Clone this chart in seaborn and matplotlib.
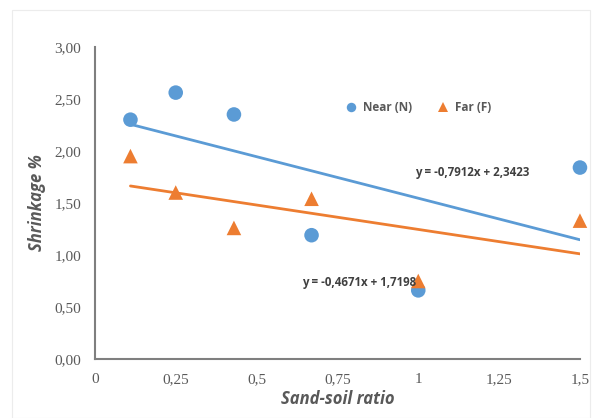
import numpy as np
import pandas as pd
import matplotlib
matplotlib.use('Agg')
import matplotlib.pyplot as plt
from matplotlib.ticker import FuncFormatter
from matplotlib.patches import Rectangle
import seaborn as sns

# data
ratio = [0.11, 0.25, 0.43, 0.67, 1.0, 1.5]
near = [2.30, 2.56, 2.35, 1.19, 0.66, 1.84]
far = [1.95, 1.60, 1.26, 1.54, 0.75, 1.33]
series_names = ['Near (N)', 'Far (F)']
eq_near = 'y = -0,7912x + 2,3423'
eq_far = 'y = -0,4671x + 1,7198'
x_ticks = [0, 0.25, 0.5, 0.75, 1, 1.25, 1.5]
x_ticklabels = ['0', '0,25', '0,5', '0,75', '1', '1,25', '1,5']
y_ticks = [0, 0.5, 1, 1.5, 2, 2.5, 3]

blue = '#5B9BD5'
orange = '#ED7D31'
grey = '#595959'

df = pd.DataFrame({
    'ratio': ratio * 2,
    'shrinkage': near + far,
    'series': [series_names[0]] * len(near) + [series_names[1]] * len(far),
})

sns.set_style('white')
plt.rcParams['font.family'] = ['Liberation Serif', 'DejaVu Sans']
fig = plt.figure(figsize=(5.93, 4.18), dpi=100)
ax = fig.add_axes([0.160, 0.141, 0.818, 0.747])

# faint outer frame
fig.patches.append(Rectangle((0.02, 0.0), 0.975, 0.975, transform=fig.transFigure,
                             fill=False, edgecolor='#ececec', linewidth=0.8))

# trend lines
sns.regplot(data=df[df.series == series_names[0]], x='ratio', y='shrinkage', ax=ax,
            scatter=False, ci=None, truncate=True, color=blue, line_kws={'linewidth': 2})
sns.regplot(data=df[df.series == series_names[1]], x='ratio', y='shrinkage', ax=ax,
            scatter=False, ci=None, truncate=True, color=orange, line_kws={'linewidth': 2})

sns.scatterplot(data=df, x='ratio', y='shrinkage', hue='series', style='series',
                palette={series_names[0]: blue, series_names[1]: orange},
                markers={series_names[0]: 'o', series_names[1]: '^'},
                s=110, linewidth=0, ax=ax, zorder=3, clip_on=False)

ax.set_xlim(0, 1.5)
ax.set_ylim(0, 3)
ax.set_xticks(x_ticks)
ax.set_xticklabels(x_ticklabels)
ax.set_yticks(y_ticks)
ax.yaxis.set_major_formatter(FuncFormatter(lambda v, p: f'{v:.2f}'.replace('.', ',')))
ax.tick_params(length=0, labelsize=11, colors=grey, pad=10)

for side in ['top', 'right']:
    ax.spines[side].set_visible(False)
for side in ['left', 'bottom']:
    ax.spines[side].set_color('#7f7f7f')
    ax.spines[side].set_linewidth(1.5)

ax.set_xlabel('Sand-soil ratio', fontsize=12, fontweight='bold', fontstyle='italic',
              color=grey, family='Open Sans', labelpad=3)
ax.set_ylabel('Shrinkage %', fontsize=12, fontweight='bold', fontstyle='italic',
              color=grey, family='Open Sans', labelpad=6)

ax.text(0.99, 1.79, eq_near, fontsize=8.3, fontweight='bold', color='#404040',
        family='Open Sans', va='center')
ax.text(0.64, 0.74, eq_far, fontsize=8.3, fontweight='bold', color='#404040',
        family='Open Sans', va='center')

ax.legend(loc='upper center', bbox_to_anchor=(0.66, 0.86), ncol=2, frameon=False,
          prop={'family': 'Open Sans', 'weight': 'bold', 'size': 8.5},
          labelcolor=grey, handletextpad=0.0, columnspacing=1.6, markerscale=0.65)

fig.savefig('out.png', dpi=100)
